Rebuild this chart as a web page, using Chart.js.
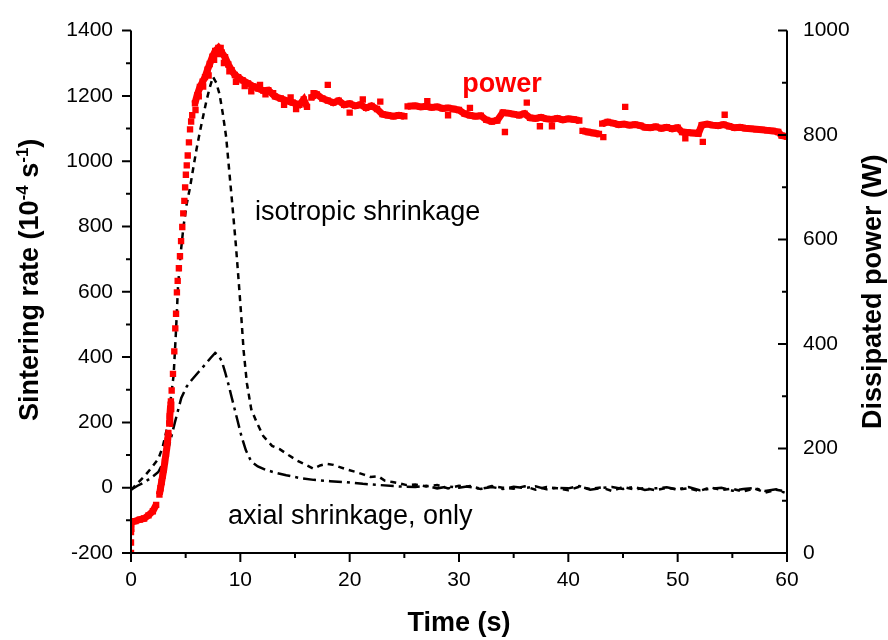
<!DOCTYPE html>
<html><head><meta charset="utf-8">
<script src="https://cdn.jsdelivr.net/npm/chart.js@4/dist/chart.umd.min.js"></script>
<style>html,body{margin:0;padding:0;background:#fff}</style>
</head><body>
<canvas id="c" width="888" height="640"></canvas>
<script>
// ---------- data ----------
const xTicks = [0, 10, 20, 30, 40, 50, 60];
const yTicks = [-200, 0, 200, 400, 600, 800, 1000, 1200, 1400];
const y2Ticks = [0, 200, 400, 600, 800, 1000];

// dissipated power (W), right axis
const powerTime = [0,0,0,0,0.1,0.4,0.8,1.2,1.6,2.0,2.3,2.6,2.7,2.8,2.9,3.0,3.1,3.2,3.28,3.35,3.42,3.5,3.55,3.6,3.65,
  3.72,3.84,3.96,4.05,4.12,4.2,4.27,4.38,4.48,4.58,4.69,4.78,4.88,4.95,5.02,5.1,5.19,5.3,5.4,5.6,5.85,6.05,6.3,6.55,6.77,7.0,7.2,7.45,7.7,7.99,
  8.3,8.6,8.9,9.2,9.5,9.8,10.2,10.7,11.2,11.65,12.1,12.56,13.17,13.7,14.2,14.8,15.4,15.8,16.1,16.5,17.0,17.5,18.0,18.5,19.0,19.5,20.0,20.5,21.0,21.5,22.0,22.5,
  23.0,23.5,24.0,24.5,25.0,25.3,26.0,26.5,27.0,27.5,28.0,28.5,29.0,29.5,30.0,30.5,31.0,31.5,32.0,32.5,33.0,33.5,34.0,34.5,35.0,35.5,36.0,36.5,37.0,37.5,38.0,38.5,39.0,39.5,40.0,40.5,41.0,
  41.3,41.8,42.3,42.8,43.1,43.6,44.1,44.6,45.1,45.6,46.1,46.6,47.0,47.5,48.0,48.5,49.0,49.5,50.0,50.4,50.9,51.4,51.9,52.2,52.7,53.2,53.7,54.2,54.7,55.2,55.7,56.2,56.7,57.2,57.7,58.2,58.7,59.2,59.5,60.0];
const powerValue = [0,20,40,55,60,61,64,66,72,80,92,112,124,136,148,160,175,190,202,215,230,248,262,276,290,
  311,343,386,430,458,499,521,545,568,597,624,650,674,700,724,742,761,786,811,838,861,876,892,902,911,925,936,950,961,967,
  958,949,935,924,915,911,905,899,893,889,885,886,874,870,866,862,858,868,854,872,878,870,866,862,866,858,860,856,858,852,856,850,
  840,838,836,838,836,855,856,854,855,853,854,851,852,850,848,841,838,836,837,829,826,828,843,842,840,838,841,833,832,834,831,830,832,829,831,830,828,
  808,806,804,802,822,825,823,820,821,819,820,818,815,814,816,813,815,812,814,806,805,804,803,819,821,819,818,820,817,814,815,813,812,811,810,809,808,806,799,797];

// scattered power samples around the main band
const outlierTime = [5.5, 5.9, 6.2, 6.6, 7.1, 7.6, 8.0, 8.2, 8.5, 9.0, 9.6, 10.4, 11.0, 11.8, 12.3, 13.0, 14.0, 14.6, 15.1,
  16.7, 18.0, 20.0, 21.2, 22.8, 27.1, 29.0, 31.0, 34.2, 36.2, 37.4, 38.5, 43.2, 45.2, 50.7, 52.3, 54.3];
const outlierValue = [826, 848, 874, 893, 914, 944, 955, 967, 938, 922, 902, 894, 884, 896, 878, 880, 858, 872, 850,
  880, 896, 843, 868, 864, 865, 838, 852, 806, 862, 817, 817, 796, 854, 794, 787, 839];

// sintering rate, isotropic shrinkage (10^-4 s^-1), left axis
const isoTime = [0,0.6,1.3,1.9,2.5,2.9,3.3,3.6,3.9,4.1,4.3,4.55,4.8,5.1,5.4,5.7,6.0,6.3,6.6,6.9,7.2,7.5,7.8,8.1,8.4,8.7,9.0,9.3,9.6,9.9,10.1,10.3,10.6,11.0,11.5,12.1,12.9,13.6,14.4,15.2,16.0,16.7,17.3,17.9,18.5,19.1,19.8,20.6,21.3,21.9,22.6,23.2,23.8,24.5,25.2,
  26,27,28,29,30,31,32,33,34,35,36,37,38,39,40,41,42,43,44,45,46,47,48,49,50,51,52,53,54,55,56,57,58,59,60];
const isoValue = [-7,14,38,62,88,125,182,262,345,470,615,720,800,870,920,980,1038,1090,1138,1185,1225,1258,1240,1205,1145,1075,965,855,740,610,518,420,320,240,200,158,128,118,100,83,70,58,68,73,70,63,55,48,40,33,35,22,18,14,8,
  10,4,8,-2,6,2,-4,5,0,-3,4,-6,2,-2,-8,3,-4,1,-10,2,-5,-1,-8,0,-6,-2,-10,1,-7,-3,-12,-2,-15,-6,-12];

// sintering rate, axial shrinkage only
const axialTime = [0,0.6,1.3,1.9,2.5,3.0,3.4,4.0,4.6,5.1,5.55,6.2,6.8,7.3,7.7,8.0,8.3,8.6,8.9,9.2,9.5,9.8,10.1,10.5,11.0,11.6,12.3,13.2,14.2,15.4,16.7,18.2,19.7,21.2,22.8,24,25,
  26,27,28,29,30,31,32,33,34,35,36,37,38,39,40,41,42,43,44,45,46,47,48,49,50,51,52,53,54,55,56,57,58,59,60];
const axialValue = [-6,6,18,32,48,80,118,198,275,310,330,355,378,398,413,405,388,355,318,278,238,198,158,115,80,65,55,46,38,30,24,20,17,12,8,5,3,
  2,6,-2,4,0,5,-3,2,-4,3,-1,4,-5,0,-2,5,-6,-1,2,-4,3,-7,-2,1,-5,2,-8,-3,0,-9,-4,-1,-10,-5,-18];

// text annotations (anchor in data units, left/baseline)
const annotations = [
  {text: 'power', x: 30.3, y: 883, axis: 'y2', color: '#ff0000', bold: true},
  {text: 'isotropic shrinkage', x: 11.35, y: 819, axis: 'y', color: '#000', bold: false},
  {text: 'axial shrinkage, only', x: 8.87, y: -111, axis: 'y', color: '#000', bold: false}
];

// axis titles
const xTitle = 'Time (s)';
const yTitleParts = [['Sintering rate (10', false], ['-4', true], [' s', false], ['-1', true], [')', false]];
const y2Title = 'Dissipated power (W)';

// ---------- chart ----------
const RED = '#ff0000';
const FAM = "'Liberation Sans', Arial, Helvetica, sans-serif";
const pts = (xs, ys) => xs.map((t, i) => ({x: t, y: ys[i]}));

const axesPlugin = {
  id: 'axesPlugin',
  afterDatasetsDraw(chart) {
    const {ctx, chartArea: a, scales: {x, y, y2}} = chart;
    const MAJ = 9, MIN = 5;
    ctx.save();
    ctx.strokeStyle = '#000';
    ctx.lineWidth = 2;
    ctx.beginPath();
    ctx.moveTo(a.left, a.top); ctx.lineTo(a.left, a.bottom + 1);
    ctx.moveTo(a.left - 1, a.bottom); ctx.lineTo(a.right + 1, a.bottom);
    ctx.moveTo(a.right, a.top); ctx.lineTo(a.right, a.bottom + 1);
    for (let i = 0; i < xTicks.length; i++) {
      const p = x.getPixelForValue(xTicks[i]);
      ctx.moveTo(p, a.bottom); ctx.lineTo(p, a.bottom + MAJ);
      if (i < xTicks.length - 1) {
        const m = x.getPixelForValue((xTicks[i] + xTicks[i + 1]) / 2);
        ctx.moveTo(m, a.bottom); ctx.lineTo(m, a.bottom + MIN);
      }
    }
    for (let i = 0; i < yTicks.length; i++) {
      const p = y.getPixelForValue(yTicks[i]);
      ctx.moveTo(a.left, p); ctx.lineTo(a.left - MAJ, p);
      if (i < yTicks.length - 1) {
        const m = y.getPixelForValue((yTicks[i] + yTicks[i + 1]) / 2);
        ctx.moveTo(a.left, m); ctx.lineTo(a.left - MIN, m);
      }
    }
    for (let i = 0; i < y2Ticks.length; i++) {
      const p = y2.getPixelForValue(y2Ticks[i]);
      ctx.moveTo(a.right, p); ctx.lineTo(a.right - MAJ, p);
      if (i < y2Ticks.length - 1) {
        const m = y2.getPixelForValue((y2Ticks[i] + y2Ticks[i + 1]) / 2);
        ctx.moveTo(a.right, m); ctx.lineTo(a.right - MIN, m);
      }
    }
    ctx.stroke();

    // annotations
    ctx.textAlign = 'left';
    ctx.textBaseline = 'alphabetic';
    annotations.forEach(an => {
      ctx.fillStyle = an.color;
      ctx.font = (an.bold ? 'bold ' : '') + '27px ' + FAM;
      ctx.fillText(an.text, x.getPixelForValue(an.x), chart.scales[an.axis].getPixelForValue(an.y));
    });

    // left title with superscripts (reads bottom to top)
    ctx.fillStyle = '#000';
    const big = 'bold 27px ' + FAM, small = 'bold 17px ' + FAM;
    let total = 0;
    yTitleParts.forEach(([t, sup]) => { ctx.font = sup ? small : big; total += ctx.measureText(t).width; });
    const cy = (a.top + a.bottom) / 2 - 12;
    ctx.save();
    ctx.translate(38, cy);
    ctx.rotate(-Math.PI / 2);
    let px = -total / 2;
    yTitleParts.forEach(([t, sup]) => {
      ctx.font = sup ? small : big;
      ctx.fillText(t, px, sup ? -10 : 0);
      px += ctx.measureText(t).width;
    });
    ctx.restore();

    // right title (reads bottom to top)
    ctx.save();
    ctx.font = big;
    ctx.textAlign = 'center';
    ctx.translate(881, (a.top + a.bottom) / 2);
    ctx.rotate(-Math.PI / 2);
    ctx.fillText(y2Title, 0, 0);
    ctx.restore();

    ctx.restore();
  }
};

const tickFont = {family: FAM, size: 21};
const titleFont = {family: FAM, size: 27, weight: 'bold'};
const plain = v => String(v);

new Chart(document.getElementById('c'), {
  type: 'line',
  data: {
    datasets: [
      {
        label: 'power', data: pts(powerTime, powerValue), yAxisID: 'y2',
        borderColor: RED, backgroundColor: RED, borderWidth: 7, tension: 0,
        pointStyle: 'rect', pointRadius: 4.5, pointBorderWidth: 0,
        segment: {borderColor: c => Math.abs(c.p1.y - c.p0.y) > 9 ? 'rgba(0,0,0,0)' : RED}
      },
      {
        label: 'power (scatter)', data: pts(outlierTime, outlierValue), yAxisID: 'y2', showLine: false,
        borderColor: RED, backgroundColor: RED, pointStyle: 'rect', pointRadius: 4.5, pointBorderWidth: 0
      },
      {
        label: 'isotropic shrinkage', data: pts(isoTime, isoValue), yAxisID: 'y',
        borderColor: '#000', borderWidth: 2.5, borderDash: [6, 5], pointRadius: 0, tension: 0
      },
      {
        label: 'axial shrinkage, only', data: pts(axialTime, axialValue), yAxisID: 'y',
        borderColor: '#000', borderWidth: 2.5, borderDash: [13, 5, 3, 5], pointRadius: 0, tension: 0
      }
    ]
  },
  options: {
    responsive: false, animation: false, devicePixelRatio: 1,
    layout: {padding: {top: 19, left: 0, right: 0, bottom: 0}},
    plugins: {legend: {display: false}, tooltip: {enabled: false}},
    scales: {
      x: {
        type: 'linear', min: 0, max: 60,
        grid: {display: false, drawTicks: false}, border: {display: false},
        afterBuildTicks: s => { s.ticks = xTicks.map(v => ({value: v})); },
        ticks: {padding: 15, font: tickFont, color: '#000', maxRotation: 0, autoSkip: false, callback: plain},
        title: {display: true, text: xTitle, color: '#000', font: titleFont, padding: {top: 0, bottom: 0}},
        afterFit: s => { s.height = 87; }
      },
      y: {
        type: 'linear', position: 'left', min: -200, max: 1400,
        grid: {display: false, drawTicks: false}, border: {display: false},
        afterBuildTicks: s => { s.ticks = yTicks.map(v => ({value: v})); },
        ticks: {padding: 18, font: tickFont, color: '#000', autoSkip: false, callback: plain},
        title: {display: false},
        afterFit: s => { s.width = 131; }
      },
      y2: {
        type: 'linear', position: 'right', min: 0, max: 1000,
        grid: {display: false, drawTicks: false}, border: {display: false},
        afterBuildTicks: s => { s.ticks = y2Ticks.map(v => ({value: v})); },
        ticks: {padding: 16, font: tickFont, color: '#000', autoSkip: false, callback: plain},
        title: {display: false},
        afterFit: s => { s.width = 101; }
      }
    }
  },
  plugins: [axesPlugin]
});
</script>
</body></html>
